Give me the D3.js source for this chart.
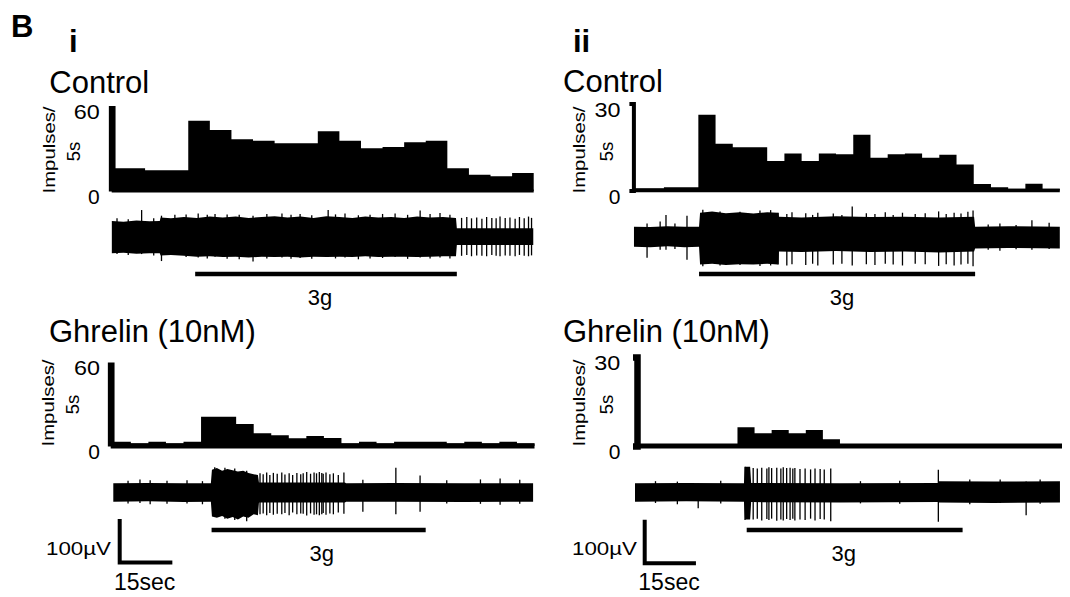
<!DOCTYPE html>
<html>
<head>
<meta charset="utf-8">
<script src="https://cdn.jsdelivr.net/npm/d3@7"></script>
<style>
  body { margin: 0; background: #fff; }
  svg text { font-family: "Liberation Sans", Arial, sans-serif; fill: #000; }
</style>
</head>
<body>
<svg id="chart" width="1070" height="597"></svg>
<script>
// Impulses per 5 s bin
var ctrlICounts  = [15.9, 15.9, 14.5, 14.5, 49.3, 42.8, 36.3, 35.3, 33.5, 33.5, 41.9, 35.3, 30.0, 30.9, 34.2, 35.3, 15.9, 11.4, 10.3, 12.6];
var ctrlIICounts = [0.8, 0.8, 1.1, 1.1, 26.1, 16.1, 14.9, 14.9, 10.2, 12.8, 10.2, 12.8, 12.5, 19.2, 11.3, 12.5, 12.8, 11.3, 12.3, 9.0, 2.2, 1.1, 0.6, 2.3, 0.6];
var ghrICounts   = [3.1, 1.9, 3.1, 1.9, 3.1, 20.9, 20.9, 15.7, 9.1, 7.6, 5.5, 7.1, 5.7, 1.9, 3.1, 1.9, 3.1, 3.1, 3.1, 1.9, 3.1, 1.9, 3.1, 1.9];
var ghrIICounts  = [0, 0, 0, 0, 0, 0, 6.3, 4.3, 5.4, 4.3, 5.4, 2.3, 0, 0, 0, 0, 0, 0, 0, 0, 0, 0, 0, 0, 0];

// y tick labels
var ticksI  = [0, 60];
var ticksII = [0, 30];

// 3g stimulus on / off (s)
var stimCtrlI  = [21.6, 82.2];
var stimCtrlII = [20.2, 100.4];
var stimGhrI   = [28.0, 89.0];
var stimGhrII  = [32.7, 95.9];

// nerve recording envelopes: [time s, upward µV, downward µV]
var envCtrlI = [[2.3,38,36],[5,36,35],[8,39,37],[11,37,36],[13.4,38,36],[13.6,46,41],[16,44,40],[19,47,42],[22,45,44],
  [25,48,43],[28,46,45],[31,48,44],[34,45,46],[37,47,44],[40,49,45],[43,46,44],[46,48,46],[49,45,44],[52,49,45],
  [55,47,44],[58,45,45],[61,48,43],[64,46,45],[67,47,44],[70,45,44],[73,48,45],[76,46,44],[79,47,43],[82.0,45,43],
  [82.2,21,17],[99.9,21,17]];
var envCtrlII = [[1.3,23,23],[6,22,24],[11,24,22],[16,23,24],[20.2,23,23],[20.5,55,64],[24,58,62],[28,54,65],
  [32,56,63],[36,53,64],[40,56,62],[43.1,55,64],[43.4,46,34],[50,44,35],[60,47,33],[70,45,35],[80,46,34],[90,44,36],
  [100.1,46,34],[100.4,23,27],[110,24,26],[125,23,27]];
var envGhrI = [[0,21,21],[10,22,20],[20,21,22],[27.8,21,21],[28.1,52,55],[29.5,56,58],[31,50,54],[32.5,54,60],
  [34,51,56],[35.5,48,62],[37,50,55],[38.5,45,58],[40,42,50],[41.2,40,52],[41.5,23,23],[66,23,23],[66.3,21,21],
  [80,22,21],[100,21,22],[119.6,21,21]];
var envGhrII = [[0,21,21],[15,22,20],[31.9,21,21],[32.2,59,62],[33.7,59,62],[34.0,22,22],[60,21,23],[88.7,22,22],
  [89.0,26,23],[105,25,24],[124.4,26,23]];

// single spikes standing out of the band: [time s, upward µV, downward µV]
var spkCtrlI = [[3.5,44,38],[6.1,42,40],[9.2,63,38],[12.0,44,41],[13.8,50,54],[16.9,52,40],[19.5,53,45],[22.3,55,46],
  [24.4,52,48],[26.2,54,44],[29.0,53,49],[31.8,52,50],[35.0,50,55],[38.2,54,48],[41.7,55,46],[43.8,52,49],
  [45.9,54,47],[48.6,51,49],[52.4,63,45],[54.1,53,48],[56.3,55,46],[59.4,51,50],[62.1,52,48],[65.0,54,47],
  [67.9,55,45],[70.8,52,49],[73.7,62,46],[76.0,54,48],[78.3,56,46],[80.6,52,48],
  [83.3,45,42],[84.5,47,40],[85.6,44,43],[86.8,46,41],[88.0,43,42],[89.1,47,43],[90.3,45,40],[91.3,44,42],
  [92.2,48,43],[93.4,45,41],[94.5,46,42],[95.7,43,43],[96.7,47,40],[97.8,44,42],[98.8,48,43],[99.5,45,41]];
var spkCtrlII = [[5.1,30,48],[8.9,35,30],[10.6,50,30],[13.2,30,28],[16.7,48,53],[21.3,62,68],[26.3,58,66],
  [32.1,57,65],[37.9,60,67],[41.0,61,66],
  [43.2,55,64],[45.7,52,66],[47.2,56,63],[51.2,54,65],[53.2,50,62],[54.7,55,66],[59.2,53,64],[61.7,50,62],
  [64.7,69,66],[68.8,54,63],[71.3,52,65],[74.3,56,62],[76.6,50,64],[79.3,55,66],[83.0,52,62],[85.9,54,63],
  [89.8,58,67],[92.0,52,63],[94.3,55,66],[96.3,53,64],[98.3,57,62],[99.8,60,68],
  [104.2,28,30],[107.6,30,32],[112.3,27,29],[116.9,38,30],[121.9,32,28]];
var spkGhrI = [[4.2,27,25],[7.6,30,24],[10.5,28,27],[15.3,27,26],[21.0,28,25],[25.4,26,27],
  [28.9,58,56],[31.8,57,60],[34.6,55,63],[38.0,50,66],
  [41.8,44,50],[42.7,42,48],[43.7,46,52],[44.6,40,47],[45.6,45,51],[46.7,43,49],[48.0,46,50],[48.9,41,47],
  [50.1,44,52],[51.1,40,46],[52.3,45,50],[53.4,42,48],[54.1,44,49],[55.1,47,53],[56.2,43,48],[57.2,46,51],
  [57.9,44,50],[58.7,47,52],[59.4,45,50],[59.8,43,47],[60.6,46,51],[61.7,42,48],[62.7,44,50],[64.1,40,46],
  [65.7,46,49],[71.1,29,44],[80.5,57,50],[87.4,39,44],[95.0,28,25],[104.6,30,26],[110.2,32,28],[115.8,29,26]];
var spkGhrII = [[6.0,26,24],[12.4,25,27],[18.5,20,36],[25.1,27,25],
  [32.2,59,63],[34.6,56,62],[35.8,55,60],[37.1,57,64],[38.6,55,61],[39.2,58,63],
  [40.0,56,60],[41.5,57,65],[42.7,55,62],[43.4,58,64],[44.4,56,61],[45.4,57,63],[46.2,55,60],[46.8,56,64],
  [48.3,54,62],[49.8,55,63],[51.4,53,60],[52.7,55,64],[54.2,54,61],[55.4,53,62],[57.3,55,66],
  [66.0,26,25],[77.5,27,26],[88.8,52,67],[98.0,30,27],[106.9,30,24],[114.5,25,52],[118.6,30,26]];

var binSec = 5;
var font = "Liberation Sans, Arial, sans-serif";

var panels = [
  { title: "Control", counts: ctrlICounts, ticks: ticksI, env: envCtrlI, spikes: spkCtrlI, stim: stimCtrlI,
    titleX: 49.3, titleY: 93.3, xr: [101.9, 533.7], axisX: 111.7, axisW: 6.7, yr: [191, 105.5], baseW: 3,
    serif: 0, pad: 12, impX: 54.5, fiveX: 80, labY: 150, trace: 237.5, stimY: 274, stimLabX: 320, stimLabY: 305 },
  { title: "Control", counts: ctrlIICounts, ticks: ticksII, env: envCtrlII, spikes: spkCtrlII, stim: stimCtrlII,
    titleX: 563, titleY: 92, xr: [629.5, 1059.8], axisX: 633.4, axisW: 4, yr: [190.5, 103.5], baseW: 3.5,
    serif: 4, pad: 13, impX: 585, fiveX: 612.5, labY: 150, trace: 236.7, stimY: 274, stimLabX: 842, stimLabY: 305 },
  { title: "Ghrelin (10nM)", counts: ghrICounts, ticks: ticksI, env: envGhrI, spikes: spkGhrI, stim: stimGhrI,
    titleX: 49, titleY: 342, xr: [113.3, 534.5], axisX: 110.7, axisW: 6.7, yr: [446, 362], baseW: 5,
    serif: 0, pad: 10.7, impX: 53.5, fiveX: 79, labY: 403, trace: 492.5, stimY: 530, stimLabX: 321.7, stimLabY: 561,
    bar: { x: 119.7, y: 562.5, uvEnd: 111, uvY: 554.5, secX: 114, secY: 590 } },
  { title: "Ghrelin (10nM)", counts: ghrIICounts, ticks: ticksII, env: envGhrII, spikes: spkGhrII, stim: stimGhrII,
    titleX: 563, titleY: 342, xr: [635, 1062], axisX: 637, axisW: 6.5, yr: [446, 357], baseW: 5,
    serif: 4, pad: 16.7, impX: 585, fiveX: 612.5, labY: 403, trace: 492.5, stimY: 530, stimLabX: 843.7, stimLabY: 561,
    bar: { x: 644.7, y: 563.3, uvEnd: 637, uvY: 554.5, secX: 638.3, secY: 590 } }
];

var svg = d3.select("#chart");

// amplitude scale for the recordings (100 µV scale bar)
var amp = d3.scaleLinear().domain([0, 100]).range([0, 43.6]);

// panel letters
svg.append("text").attr("x", 11).attr("y", 37).attr("font-size", 31).attr("font-weight", "bold").text("B");
svg.append("text").attr("x", 69).attr("y", 52).attr("font-size", 31).attr("font-weight", "bold").text("i");
svg.append("text").attr("x", 573).attr("y", 52).attr("font-size", 31).attr("font-weight", "bold").text("ii");

panels.forEach(function(p) {
    var nBins = p.counts.length;
    var x = d3.scaleLinear().domain([0, nBins * binSec]).range(p.xr);
    var y = d3.scaleLinear().domain([0, p.ticks[1]]).range(p.yr);

    var g = svg.append("g");

    // condition title
    g.append("text").attr("x", p.titleX).attr("y", p.titleY).attr("font-size", 31).text(p.title);

    // histogram as a stepped area
    var histData = p.counts.map(function(v, i) { return { t: i * binSec, v: v }; });
    histData.push({ t: nBins * binSec, v: p.counts[nBins - 1] });
    var histArea = d3.area()
        .curve(d3.curveStepAfter)
        .x(function(d) { return Math.max(x(d.t), p.axisX); })
        .y0(y(0))
        .y1(function(d) { return y(d.v); });
    g.append("path").datum(histData).attr("d", histArea).attr("fill", "#000");

    // baseline
    g.append("line")
        .attr("x1", p.axisX).attr("x2", x(nBins * binSec))
        .attr("y1", y(0)).attr("y2", y(0))
        .attr("stroke", "#000").attr("stroke-width", p.baseW);

    // y axis
    var yAxis = d3.axisLeft(y).tickValues(p.ticks).tickSize(0).tickSizeOuter(p.serif).tickPadding(p.pad);
    var ga = g.append("g")
        .attr("transform", "translate(" + p.axisX + ",0)")
        .call(yAxis);
    ga.attr("font-family", font).attr("font-size", 21);
    ga.select(".domain").attr("stroke-width", p.axisW);
    ga.selectAll(".tick text")
        .attr("font-size", 21)
        .attr("transform", "translate(0,6)")
        .attr("textLength", function(d) { return d >= 10 ? 26 : null; })
        .attr("lengthAdjust", "spacingAndGlyphs");

    // y label
    g.append("text")
        .attr("transform", "translate(" + p.impX + "," + p.labY + ") rotate(-90)")
        .attr("text-anchor", "middle").attr("font-size", 16)
        .attr("textLength", 87).attr("lengthAdjust", "spacingAndGlyphs")
        .text("Impulses/");
    g.append("text")
        .attr("transform", "translate(" + p.fiveX + "," + (p.labY + 1.5) + ") rotate(-90)")
        .attr("text-anchor", "middle").attr("font-size", 18.5)
        .text("5s");

    // recording band
    var band = d3.area()
        .x(function(d) { return x(d[0]); })
        .y0(function(d) { return p.trace + amp(d[2]); })
        .y1(function(d) { return p.trace - amp(d[1]); });
    g.append("path").datum(p.env).attr("d", band).attr("fill", "#000");

    g.selectAll(".spike")
        .data(p.spikes)
        .enter().append("line")
        .attr("class", "spike")
        .attr("x1", function(d) { return x(d[0]); })
        .attr("x2", function(d) { return x(d[0]); })
        .attr("y1", function(d) { return p.trace - amp(d[1]); })
        .attr("y2", function(d) { return p.trace + amp(d[2]); })
        .attr("stroke", "#000").attr("stroke-width", 1.3);

    // stimulus bar
    g.append("line")
        .attr("x1", x(p.stim[0])).attr("x2", x(p.stim[1]))
        .attr("y1", p.stimY).attr("y2", p.stimY)
        .attr("stroke", "#000").attr("stroke-width", 4.5);
    g.append("text")
        .attr("x", p.stimLabX).attr("y", p.stimLabY)
        .attr("text-anchor", "middle").attr("font-size", 22)
        .text("3g");

    // scale bar (ghrelin rows)
    if (p.bar) {
        var b = p.bar;
        g.append("path")
            .attr("d", "M" + b.x + "," + (b.y - amp(100)) + "V" + b.y + "H" + (b.x + x(15) - x(0)))
            .attr("fill", "none").attr("stroke", "#000").attr("stroke-width", 4);
        g.append("text")
            .attr("x", b.uvEnd).attr("y", b.uvY)
            .attr("text-anchor", "end").attr("font-size", 19)
            .attr("textLength", 65).attr("lengthAdjust", "spacingAndGlyphs")
            .text("100µV");
        g.append("text")
            .attr("x", b.secX).attr("y", b.secY)
            .attr("font-size", 23)
            .text("15sec");
    }
});
</script>
</body>
</html>
